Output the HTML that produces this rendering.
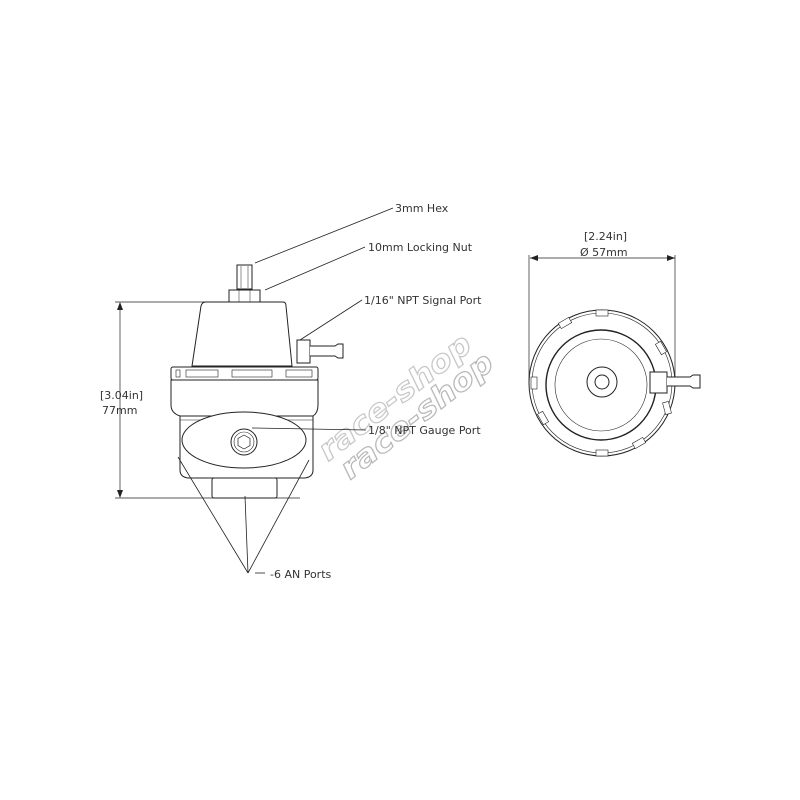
<!DOCTYPE html>
<html><head><style>
html,body{margin:0;padding:0;background:#fff;}
svg{display:block}
text.l{font-family:"DejaVu Sans","Liberation Sans",sans-serif;font-size:11px;fill:#333}
</style></head><body>
<svg width="800" height="800" viewBox="0 0 800 800" xmlns="http://www.w3.org/2000/svg">
<g transform="translate(328,462) rotate(-38)">
<text x="0" y="0" textLength="185" lengthAdjust="spacingAndGlyphs" style="font-family:'DejaVu Sans',sans-serif;font-size:30px;font-weight:bold;font-style:italic;fill:none;stroke:#c8c8c8;stroke-width:1.2">race-shop</text>
<text x="6" y="28" textLength="185" lengthAdjust="spacingAndGlyphs" style="font-family:'DejaVu Sans',sans-serif;font-size:30px;font-weight:bold;font-style:italic;fill:none;stroke:#b8b8b8;stroke-width:1.2">race-shop</text>
</g>
<g fill="none" stroke="#222" stroke-width="1">
<line x1="115" y1="302" x2="212" y2="302" stroke-width="0.7"/>
<line x1="115" y1="498" x2="300" y2="498" stroke-width="0.7"/>
<line x1="120" y1="304" x2="120" y2="496" stroke-width="0.7"/>
<rect x="237" y="265" width="15" height="24" fill="#fff"/>
<line x1="241" y1="266" x2="241" y2="288" stroke-width="0.5"/>
<line x1="248" y1="266" x2="248" y2="288" stroke-width="0.5"/>
<path d="M229 290 h31 v12 h-31 z" fill="#fff"/>
<line x1="239" y1="290" x2="239" y2="302" stroke-width="0.5"/>
<line x1="250" y1="290" x2="250" y2="302" stroke-width="0.5"/>
<path d="M206 302 L283 302 Q286 302 286 306 L292 366 L192 366 L201 306 Q202 302 206 302 Z" fill="#fff"/>
<rect x="297" y="340" width="13" height="23" fill="#fff"/>
<path d="M310 346 h25 l3 -2 h5 v14 h-5 l-3 -2 h-25" fill="#fff"/>
<rect x="171" y="367" width="147" height="13" rx="2" fill="#fff"/>
<rect x="176" y="370" width="4" height="7" stroke-width="0.6"/>
<rect x="186" y="370" width="32" height="7" stroke-width="0.6"/>
<rect x="232" y="370" width="40" height="7" stroke-width="0.6"/>
<rect x="286" y="370" width="26" height="7" stroke-width="0.6"/>
<path d="M171 380 H318 V405 Q318 413 313 416 H180 Q171 413 171 405 Z" fill="#fff"/>
<path d="M180 416 H313 V470 Q313 477 305 478 H188 Q180 477 180 470 Z" fill="#fff"/>
<line x1="180" y1="420" x2="313" y2="420" stroke-width="0.6"/>
<ellipse cx="244" cy="440" rx="62" ry="28" fill="#fff"/>
<circle cx="244" cy="442" r="13" fill="#fff"/>
<circle cx="244" cy="442" r="10" stroke-width="0.6"/>
<path d="M244 435 l6 3.5 v7 l-6 3.5 l-6 -3.5 v-7 z" stroke-width="0.7"/>
<rect x="212" y="478" width="65" height="20" rx="2" fill="#fff"/>
<g stroke-width="0.8">
<line x1="255" y1="263" x2="393" y2="208"/>
<line x1="265" y1="290" x2="365" y2="247"/>
<line x1="300" y1="340" x2="362" y2="300"/>
<line x1="252" y1="428" x2="366" y2="430"/>
<line x1="248" y1="573" x2="178" y2="457"/>
<line x1="248" y1="573" x2="245" y2="496"/>
<line x1="248" y1="573" x2="309" y2="460"/>
<line x1="255" y1="573" x2="265" y2="573"/>
</g>
<line x1="530" y1="258" x2="675" y2="258" stroke-width="0.7"/>
<line x1="529" y1="255" x2="529" y2="385" stroke-width="0.7"/>
<line x1="675" y1="255" x2="675" y2="385" stroke-width="0.7"/>
<circle cx="602" cy="383" r="73" fill="#fff"/>
<circle cx="602" cy="383" r="70" stroke-width="0.6"/>
<g stroke-width="0.6" fill="#fff">
<rect x="-6" y="-3" width="12" height="6" transform="translate(602,313)"/>
<rect x="-6" y="-3" width="12" height="6" transform="translate(602,453)"/>
<rect x="-6" y="-3" width="12" height="6" transform="translate(534,383) rotate(90)"/>
<rect x="-6" y="-3" width="12" height="6" transform="translate(565,323) rotate(-30)"/>
<rect x="-6" y="-3" width="12" height="6" transform="translate(661,348) rotate(60)"/>
<rect x="-6" y="-3" width="12" height="6" transform="translate(543,418) rotate(60)"/>
<rect x="-6" y="-3" width="12" height="6" transform="translate(639,443) rotate(-30)"/>
<rect x="-6" y="-3" width="12" height="6" transform="translate(667,408) rotate(75)"/>
</g>
<circle cx="601" cy="385" r="55" stroke-width="1.4"/>
<circle cx="601" cy="385" r="46" stroke-width="0.6"/>
<circle cx="602" cy="382" r="15"/>
<circle cx="602" cy="382" r="7"/>
<rect x="650" y="372" width="17" height="21" fill="#fff"/>
<path d="M667 377 h23 l3 -2 h7 v13 h-7 l-3 -2 h-23" fill="#fff"/>
</g>
<g fill="#222">
<polygon points="120,302 117,310 123,310"/>
<polygon points="120,498 117,490 123,490"/>
<polygon points="530,258 538,255 538,261"/>
<polygon points="675,258 667,255 667,261"/>
</g>
<text class="l" x="395" y="212">3mm Hex</text>
<text class="l" x="368" y="251">10mm Locking Nut</text>
<text class="l" x="364" y="304">1/16" NPT Signal Port</text>
<text class="l" x="368" y="434">1/8" NPT Gauge Port</text>
<text class="l" x="270" y="578">-6 AN Ports</text>
<text class="l" x="100" y="399">[3.04in]</text>
<text class="l" x="102" y="414">77mm</text>
<text class="l" x="584" y="240">[2.24in]</text>
<text class="l" x="580" y="256">Ø 57mm</text>
</svg>
</body></html>
